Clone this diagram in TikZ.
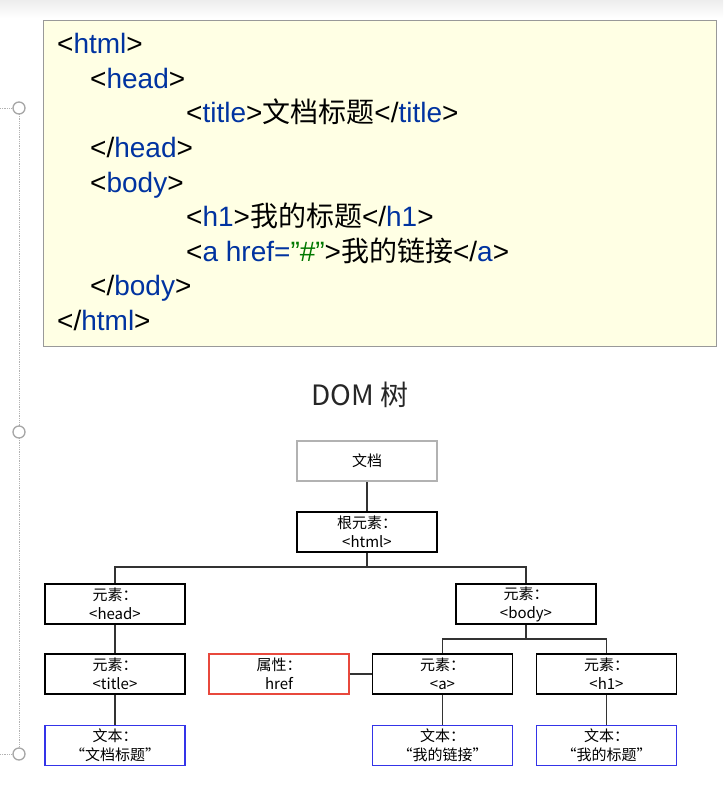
\documentclass[tikz,border=0pt]{standalone}
\usepackage{fontspec}
\setmainfont{Liberation Sans}
\newfontfamily\cjk{Noto Sans CJK SC}
\usepackage{xcolor}
\definecolor{tagblue}{RGB}{0,51,160}
\definecolor{valgreen}{RGB}{0,120,0}
\definecolor{codebg}{RGB}{255,255,228}
\definecolor{attrred}{RGB}{232,72,60}
\definecolor{txtblue}{RGB}{52,52,232}
\newcommand{\tg}[1]{\textcolor{tagblue}{#1}}
\newcommand{\zh}[1]{{\cjk #1}}

\tikzset{
  codeline/.style={anchor=base west,inner sep=0pt,font=\fontsize{28}{32}\selectfont},
  treebox/.style={draw,line width=1.6pt,minimum width=140pt,minimum height=40pt,inner sep=0pt,
    align=center,font=\cjk\fontsize{15}{19}\selectfont},
  docbox/.style={treebox,draw=gray!60,line width=2.6pt},
  attrbox/.style={treebox,draw=attrred},
  textbox/.style={treebox,draw=txtblue},
  edge/.style={line width=1.7pt,black!80}
}

\begin{document}
\begin{tikzpicture}[x=1pt,y=-1pt]
       \useasboundingbox (0,0) rectangle (723,789);
       \shade[top color=gray!14,bottom color=white] (0,0) rectangle (723,18);
       \begin{scope}[gray!60,line width=0.8pt]
         \draw[densely dotted] (19,114) -- (19,748);
         \draw[densely dotted] (0,108) -- (13,108);
         \draw[densely dotted] (0,754) -- (13,754);
         \draw[gray!70,line width=1.3pt,fill=white] (19,108) circle (6);
         \draw[gray!70,line width=1.3pt,fill=white] (19,432) circle (6);
         \draw[gray!70,line width=1.3pt,fill=white] (19,754) circle (6);
       \end{scope}
       \begin{scope}
         \draw[gray!80,line width=1pt,fill=codebg] (43,21) rectangle (716,346);
         \node[codeline] (l1) at (57,54) {<\tg{html}>};
         \node[codeline] (l2) at (90,88.5) {<\tg{head}>};
         \node[codeline] (l3) at (186,123) {<\tg{title}>\zh{文档标题}</\tg{title}>};
         \node[codeline] (l4) at (90,157.5) {</\tg{head}>};
         \node[codeline] (l5) at (90,192) {<\tg{body}>};
         \node[codeline] (l6) at (186,226.5) {<\tg{h1}>\zh{我的标题}</\tg{h1}>};
         \node[codeline] (l7) at (186,261) {<\tg{a href=}\textcolor{valgreen}{\char34\#\char34}>\zh{我的链接}</\tg{a}>};
         \node[codeline] (l8) at (90,295.5) {</\tg{body}>};
         \node[codeline] (l9) at (57,330) {</\tg{html}>};
       \end{scope}
       \node[font=\cjk\fontsize{28}{32}\selectfont,text=black!85] (dom) at (360,395) {DOM 树};
       \begin{scope}
         \node[docbox] (doc) at (367,461) {文档};
         \node[treebox] (root) at (367,532) {根元素：\\<html>};
         \node[treebox] (head) at (115,604) {元素：\\<head>};
         \node[treebox] (body) at (526,604) {元素：\\<body>};
         \node[treebox] (title) at (115,674) {元素：\\<title>};
         \node[attrbox] (href) at (279,674) {属性：\\href};
         \node[treebox] (a) at (442.5,674) {元素：\\<a>};
         \node[treebox] (h1) at (606.5,674) {元素：\\<h1>};
         \node[textbox] (t1) at (115,745.5) {文本：\\“文档标题”};
         \node[textbox] (t2) at (442.5,745.5) {文本：\\“我的链接”};
         \node[textbox] (t3) at (606.5,745.5) {文本：\\“我的标题”};
         \draw[edge] (doc) -- (root);
         \draw[edge] (root.south) -- ++(0,14) -| (head.north);
         \draw[edge] (root.south) -- ++(0,14) -| (body.north);
         \draw[edge] (head) -- (title);
         \draw[edge] (title) -- (t1);
         \draw[edge] (body.south) -- ++(0,14) -| (a.north);
         \draw[edge] (body.south) -- ++(0,14) -| (h1.north);
         \draw[edge] (href) -- (a);
         \draw[edge] (a) -- (t2);
         \draw[edge] (h1) -- (t3);
       \end{scope}
     \end{tikzpicture}
\end{document}
